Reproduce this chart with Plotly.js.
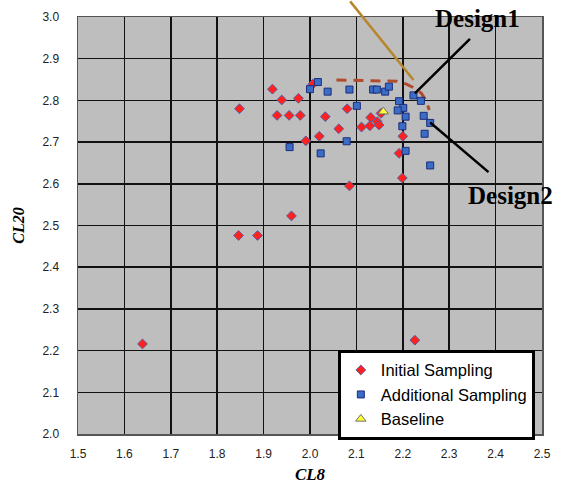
<!DOCTYPE html>
<html>
<head>
<meta charset="utf-8">
<script src="https://cdn.plot.ly/plotly-3.0.1.min.js"></script>
<style>
  html, body { margin: 0; padding: 0; background: #fff; }
  #chart { width: 568px; height: 488px; }
</style>
</head>
<body>
<div id="chart"></div>
<script>
// Initial sampling points (CL8, CL20)
const cl8Initial = [1.919, 1.939, 1.975, 1.848, 1.929, 1.955, 1.979, 2.033, 2.062, 2.020,
                    1.991, 2.006, 2.080, 2.131, 2.111, 2.129, 2.145, 2.149, 2.153, 2.200,
                    2.192, 2.199, 2.085, 1.960, 1.846, 1.887, 1.639, 2.226];
const cl20Initial = [2.827, 2.801, 2.805, 2.780, 2.764, 2.764, 2.764, 2.761, 2.732, 2.714,
                     2.703, 2.839, 2.780, 2.759, 2.736, 2.739, 2.749, 2.741, 2.769, 2.714,
                     2.673, 2.614, 2.595, 2.523, 2.476, 2.476, 2.216, 2.225];

// Additional sampling points
const cl8Additional = [2.017, 2.000, 2.038, 1.956, 2.023, 2.085, 2.136, 2.144, 2.162, 2.170,
                       2.223, 2.239, 2.101, 2.192, 2.201, 2.189, 2.206, 2.245, 2.259, 2.199,
                       2.247, 2.079, 2.206, 2.259];
const cl20Additional = [2.844, 2.827, 2.821, 2.688, 2.673, 2.826, 2.826, 2.826, 2.821, 2.833,
                        2.812, 2.799, 2.787, 2.798, 2.782, 2.776, 2.761, 2.763, 2.746, 2.738,
                        2.720, 2.702, 2.679, 2.644];

// Baseline design
const cl8Baseline = [2.158];
const cl20Baseline = [2.773];

// Non-dominated front (dashed)
const frontCL8 = [2.057, 2.187, 2.208, 2.226, 2.240, 2.250, 2.257];
const frontCL20 = [2.849, 2.846, 2.839, 2.829, 2.817, 2.800, 2.777];

// Tick values
const xTicks = [1.5, 1.6, 1.7, 1.8, 1.9, 2.0, 2.1, 2.2, 2.3, 2.4, 2.5];
const yTicks = [2.0, 2.1, 2.2, 2.3, 2.4, 2.5, 2.6, 2.7, 2.8, 2.9, 3.0];

const traces = [
  {
    x: frontCL8, y: frontCL20, mode: 'lines', showlegend: false, hoverinfo: 'skip',
    line: { color: '#B24A2C', width: 3, dash: '10px,7px' }
  },
  {
    name: 'Initial Sampling', x: cl8Initial, y: cl20Initial, mode: 'markers', type: 'scatter',
    marker: { symbol: 'diamond', size: 7.5, color: '#FF2020', line: { color: '#5C5C9C', width: 1 } }
  },
  {
    name: 'Additional Sampling', x: cl8Additional, y: cl20Additional, mode: 'markers', type: 'scatter',
    marker: { symbol: 'square', size: 7, color: '#3B6CC6', line: { color: '#1C2E7A', width: 1 } }
  },
  {
    name: 'Baseline', x: cl8Baseline, y: cl20Baseline, mode: 'markers', type: 'scatter',
    marker: { symbol: 'triangle-up', size: 9, color: '#FFFF33', line: { color: '#707070', width: 1 } }
  }
];

const leader = (x, y, ax, ay, color) => ({
  x: x, y: y, ax: ax, ay: ay, xref: 'x', yref: 'y', axref: 'x', ayref: 'y',
  text: '', showarrow: true, arrowhead: 0, arrowwidth: 2.5, arrowcolor: color,
  standoff: 0, startstandoff: 0
});

const layout = {
  width: 568, height: 488,
  margin: { l: 78, r: 26, t: 17, b: 54 },
  paper_bgcolor: '#FFFFFF',
  plot_bgcolor: '#BEBEBE',
  showlegend: true,
  legend: {
    x: 0.56, y: 0.202, xanchor: 'left', yanchor: 'top',
    bgcolor: '#FFFFFF', bordercolor: '#000000', borderwidth: 3,
    font: { family: 'Liberation Sans, Arial, sans-serif', size: 16.5, color: '#000' },
    tracegroupgap: 0
  },
  xaxis: {
    range: [1.5, 2.5], tickvals: xTicks, ticktext: xTicks.map(v => v.toFixed(1)),
    showgrid: true, gridcolor: '#111111', gridwidth: 1.5, zeroline: false,
    showline: true, linecolor: '#555555', linewidth: 1.5, mirror: true,
    ticks: '', ticklabelstandoff: 8,
    tickfont: { family: 'Liberation Sans, Arial, sans-serif', size: 12, color: '#222' },
    title: { text: '<b><i>CL8</i></b>', standoff: 8,
             font: { family: 'Liberation Serif, Times New Roman, serif', size: 17, color: '#000' } }
  },
  yaxis: {
    range: [2.0, 3.0], tickvals: yTicks, ticktext: yTicks.map(v => v.toFixed(1)),
    showgrid: true, gridcolor: '#111111', gridwidth: 1.5, zeroline: false,
    showline: true, linecolor: '#555555', linewidth: 1.5, mirror: true,
    ticks: '', ticklabelstandoff: 15,
    tickfont: { family: 'Liberation Sans, Arial, sans-serif', size: 12, color: '#222' },
    title: { text: '<b><i>CL20</i></b>', standoff: 14,
             font: { family: 'Liberation Serif, Times New Roman, serif', size: 16, color: '#000' } }
  },
  annotations: [
    leader(2.223, 2.849, 2.084, 3.041, '#B8862E'),
    leader(2.226, 2.817, 2.348, 2.951, '#000000'),
    leader(2.259, 2.747, 2.388, 2.625, '#000000'),
    {
      x: 2.36, y: 2.996, xref: 'x', yref: 'y', text: '<b>Design1</b>', showarrow: false,
      xanchor: 'center', yanchor: 'middle',
      font: { family: 'Liberation Serif, Times New Roman, serif', size: 25, color: '#000' }
    },
    {
      x: 2.433, y: 2.572, xref: 'x', yref: 'y', text: '<b>Design2</b>', showarrow: false,
      xanchor: 'center', yanchor: 'middle',
      font: { family: 'Liberation Serif, Times New Roman, serif', size: 25, color: '#000' }
    }
  ]
};

Plotly.newPlot('chart', traces, layout, { staticPlot: true, displayModeBar: false });
</script>
</body>
</html>
